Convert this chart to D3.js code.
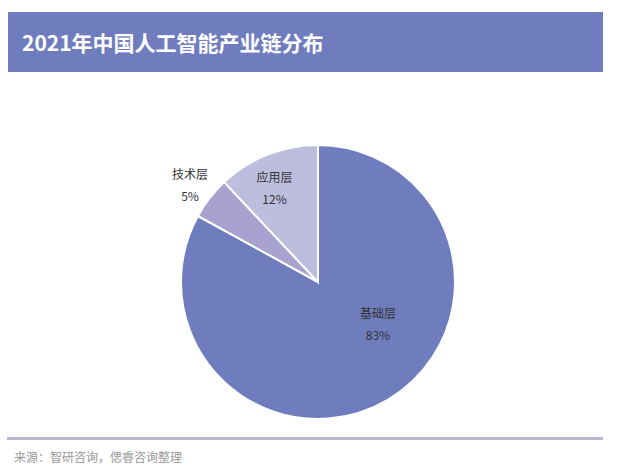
<!DOCTYPE html>
<html lang="zh">
<head>
<meta charset="UTF-8">
<script src="https://d3js.org/d3.v7.min.js"></script>
<style>
body { margin: 0; background: #fff; }
svg { font-family: "Noto Sans CJK SC", sans-serif; }
</style>
</head>
<body>
<svg id="chart" width="618" height="474"></svg>
<script>
var labels = ["基础层", "技术层", "应用层"];
var values = [83, 5, 12];
var colors = ["#6f7dbf", "#a7a2d0", "#bdbddd"];

var svg = d3.select("#chart");

// header band
svg.append("rect").attr("x", 8).attr("y", 12).attr("width", 595).attr("height", 60).attr("fill", "#6f7dbf");
svg.append("text").attr("x", 22).attr("y", 51).attr("fill", "#fff")
    .attr("font-size", 21).attr("font-weight", "bold").text("2021年中国人工智能产业链分布");

var cx = 318, cy = 282, r = 137;
var pie = d3.pie().sort(null).value(function(d) { return d; });
var arcs = pie(values);
var arc = d3.arc().innerRadius(0).outerRadius(r);

var g = svg.append("g").attr("transform", "translate(" + cx + "," + cy + ")");
g.selectAll("path").data(arcs).enter().append("path")
    .attr("d", arc)
    .attr("fill", function(d, i) { return colors[i]; })
    .attr("stroke", "#fff").attr("stroke-width", 2);

// label placement: radius and angle shift per slice
var labelR = [72, 162, 105];
var labelShift = [-0.45, 0, -0.05];
arcs.forEach(function(d, i) {
    var a = (d.startAngle + d.endAngle) / 2 + labelShift[i];
    var x = Math.sin(a) * labelR[i], y = -Math.cos(a) * labelR[i];
    var t = g.append("text").attr("text-anchor", "middle").attr("font-size", 12).attr("fill", "#333");
    t.append("tspan").attr("x", x).attr("y", y - 4).text(labels[i]);
    t.append("tspan").attr("x", x).attr("y", y + 18).text(values[i] + "%");
});

// footer
svg.append("rect").attr("x", 7).attr("y", 437).attr("width", 596).attr("height", 3).attr("fill", "#b8b9d0");
svg.append("text").attr("x", 14).attr("y", 462).attr("font-size", 12).attr("fill", "#999")
    .text("来源：智研咨询，偲睿咨询整理");
</script>
</body>
</html>
